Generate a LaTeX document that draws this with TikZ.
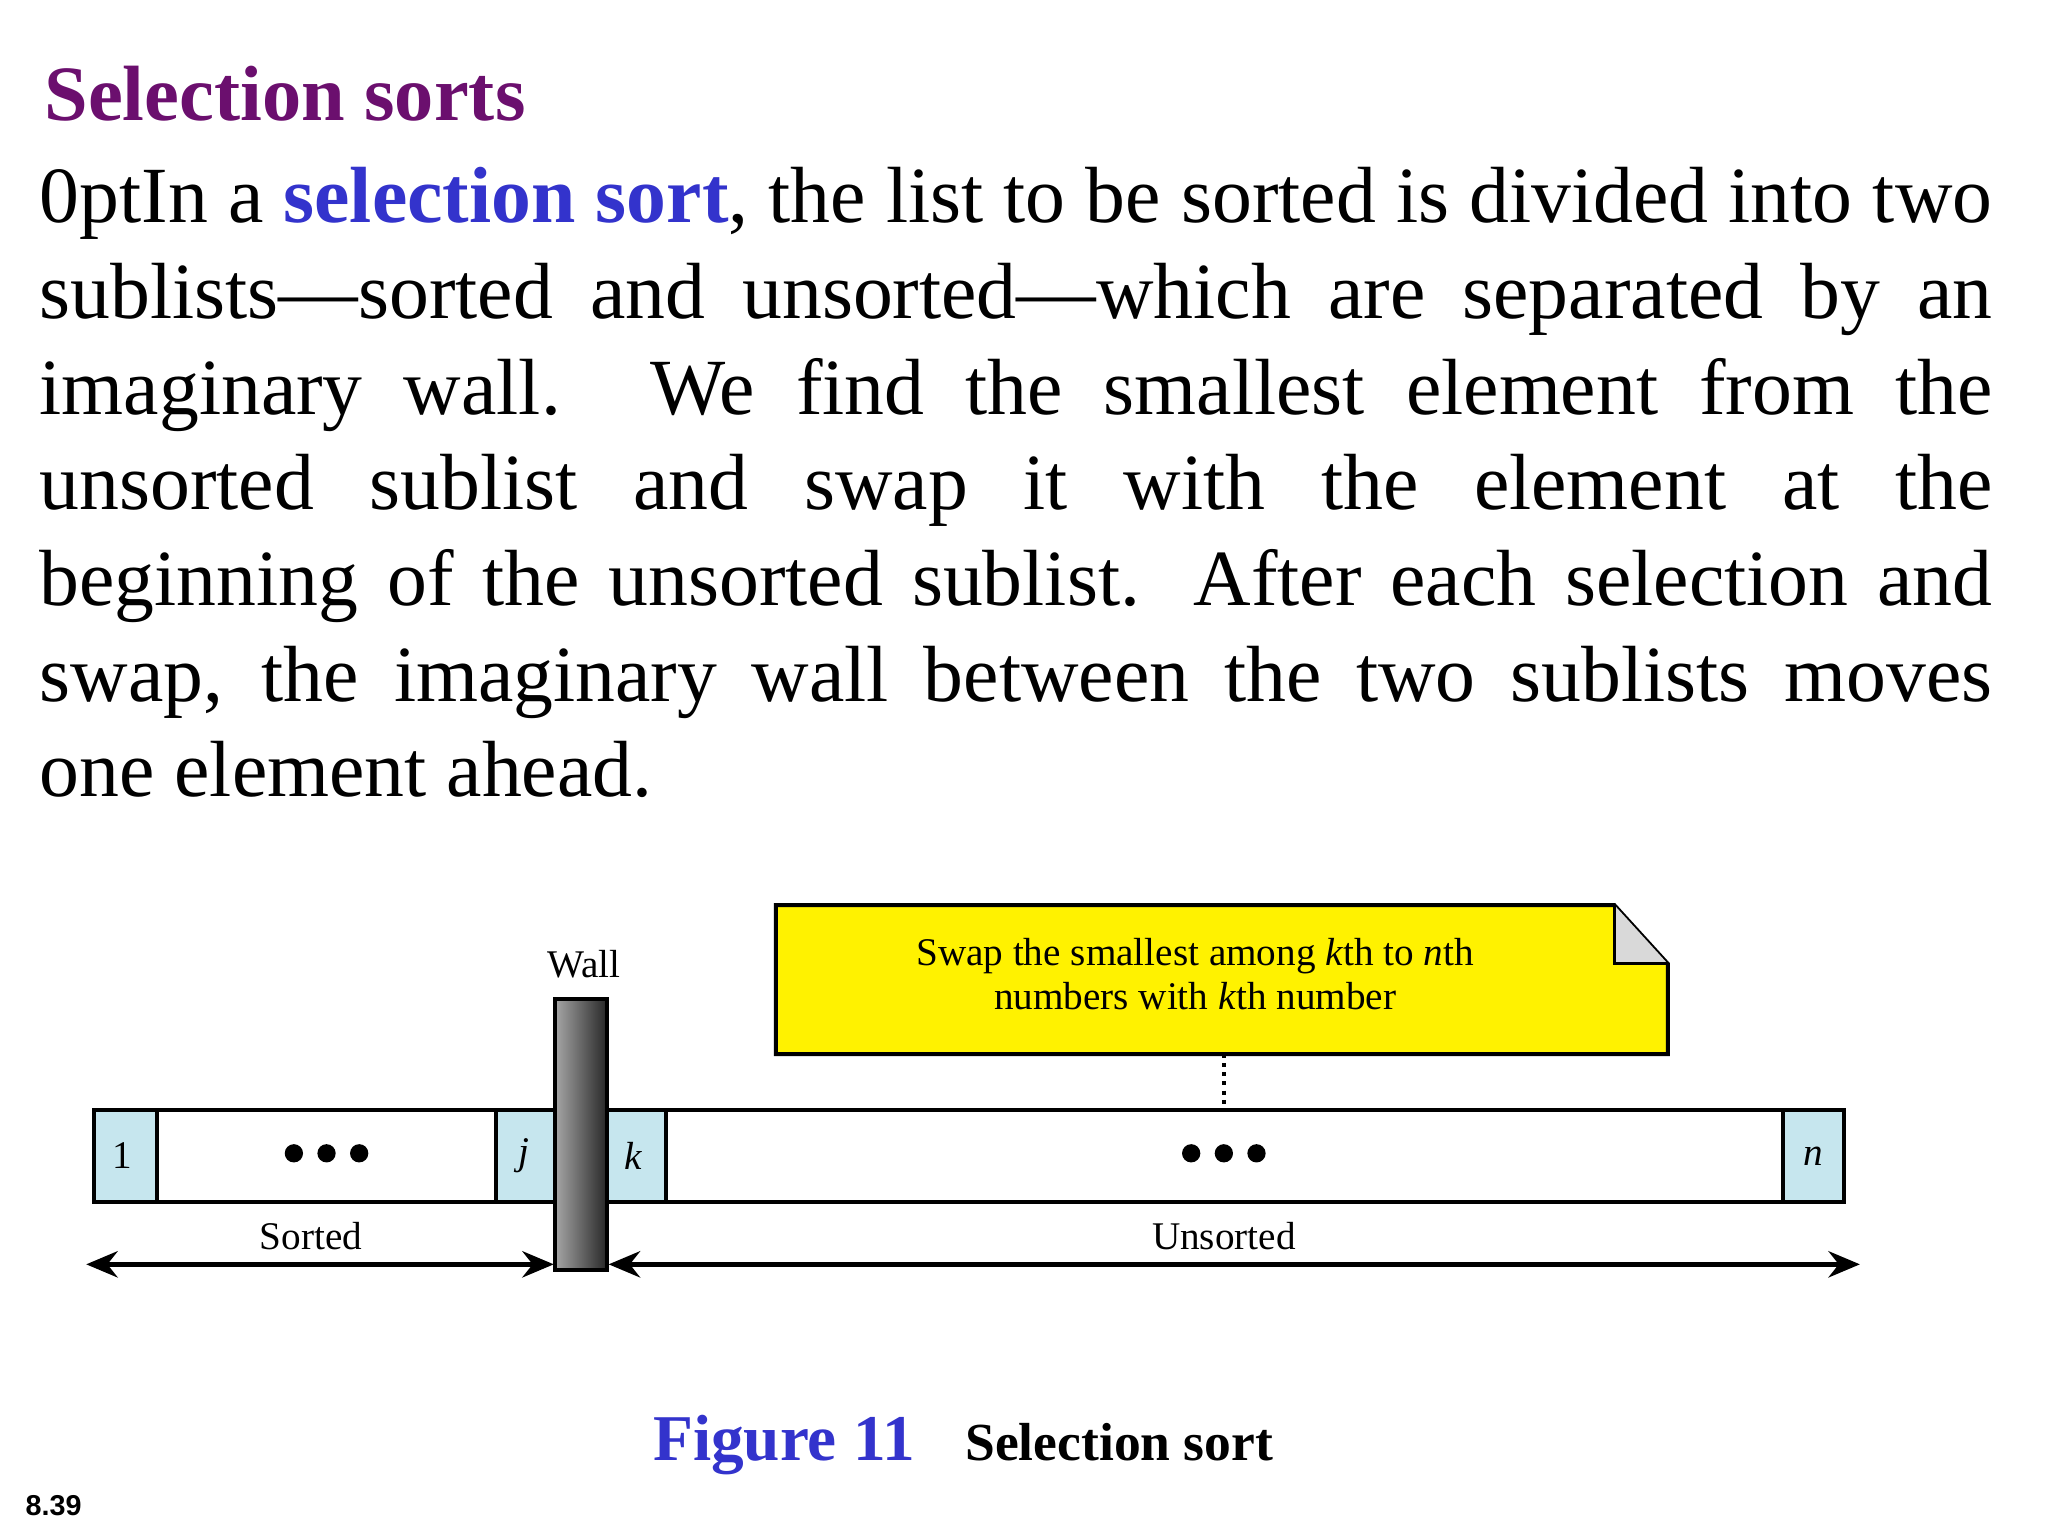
\documentclass[tikz,border=0pt]{standalone}
\usepackage{fontspec}
\setmainfont{Liberation Serif}
\newfontfamily\sansf{Liberation Sans}
\usetikzlibrary{arrows.meta}
\definecolor{ttl}{HTML}{6B0F6E}
\definecolor{kw}{HTML}{3333CC}
\definecolor{cellc}{HTML}{C6E6EE}
\tikzset{cell/.style={draw,line width=1.5pt,fill=cellc},
 mid/.style={draw,line width=1.5pt,fill=white},
 lbl/.style={font=\fontsize{15}{17}\selectfont},
 arr/.style={{Stealth[length=12pt,width=10pt]}-{Stealth[length=12pt,width=10pt]},line width=2pt}}
\begin{document}
\begin{tikzpicture}[x=0.5pt,y=-0.5pt]
\useasboundingbox (0,0) rectangle (1568,1176);
\node[anchor=west,text=ttl,font=\fontsize{30}{34}\selectfont\bfseries] (title) at (27,72) {Selection sorts};
\node[anchor=north west,inner sep=0,text width=747.5pt,align=justify,font=\fontsize{30.5}{36.6}\selectfont\hyphenpenalty=10000] (body) at (30,128)
{In a \textcolor{kw}{\textbf{selection sort}}, the list to be sorted is divided into two\linebreak
sublists---sorted and unsorted---which are separated by an\linebreak
imaginary wall. We find the smallest element from the\linebreak
unsorted sublist and swap it with the element at the\linebreak
beginning of the unsorted sublist. After each selection and\linebreak
swap, the imaginary wall between the two sublists moves\linebreak
one element ahead.\par};
% cells
\draw[cell] (72,850) rectangle (120,920);
\draw[mid] (120,850) rectangle (380,920);
\draw[cell] (380,850) rectangle (425,920);
\draw[cell] (465,850) rectangle (510,920);
\draw[mid] (510,850) rectangle (1365,920);
\draw[cell] (1365,850) rectangle (1412,920);
\node[lbl] (c1) at (94,885) {1};
\node[lbl] (cj) at (401,885) {\itshape j};
\node[lbl] (ck) at (485,885) {\itshape k};
\node[lbl] (cn) at (1388,885) {\itshape n};
\foreach \x in {225,250,275} \fill (\x,883) circle (7);
\foreach \x in {912,937,962} \fill (\x,883) circle (7);
% wall
\shade[left color=gray!70,right color=black!85,draw=black,line width=1.5pt] (425,765) rectangle (465,972);
\node[lbl] (wall) at (447,738) {Wall};
% arrows
\coordinate (s1) at (66,968); \coordinate (s2) at (424,968);
\coordinate (u1) at (466,968); \coordinate (u2) at (1424,968);
\draw[arr] (s1) -- (s2);
\draw[arr] (u1) -- (u2);
\node[lbl] (sorted) at (238,946) {Sorted};
\node[lbl] (unsorted) at (937,946) {Unsorted};
% note
\draw[fill=yellow,line width=1.5pt] (594,693) -- (1236,693) -- (1277,738) -- (1277,807) -- (594,807) -- cycle;
\draw[fill=gray!30,line width=1.2pt] (1236,693) -- (1236,738) -- (1277,738);
\node[lbl,align=center] (note) at (915,746) {Swap the smallest among \textit{k}th to \textit{n}th\\numbers with \textit{k}th number};
\coordinate (nb) at (937,807); \coordinate (mt) at (937,850);
\draw[dotted,line width=1.5pt] (nb) -- (mt);
% caption
\node[anchor=base west,text=kw,font=\fontsize{25}{28}\selectfont\bfseries] (fig) at (493,1118) {Figure 11};
\node[anchor=base west,font=\fontsize{20.5}{24}\selectfont\bfseries] (cap) at (732,1118) {Selection sort};
\node[font=\sansf\bfseries\fontsize{11}{13}\selectfont] (pg) at (41,1153) {8.39};
\end{tikzpicture}
\end{document}
